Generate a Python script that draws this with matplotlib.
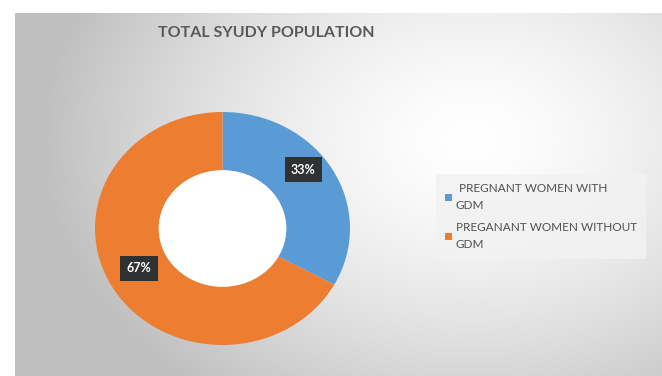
import numpy as np
import matplotlib.pyplot as plt
from matplotlib.patches import Patch, Ellipse

labels = [' PREGNANT WOMEN WITH\nGDM', 'PREGANANT WOMEN WITHOUT\nGDM']
values = [33, 67]
pct_labels = ['33%', '67%']
colors = ['#5B9BD5', '#ED7D31']
title = 'TOTAL SYUDY POPULATION'

plt.rcParams['font.family'] = ['Lato', 'DejaVu Sans']

W, H = 662, 376
fig = plt.figure(figsize=(W / 100, H / 100), dpi=100)
fig.patch.set_facecolor('white')

# background panel with a soft radial gradient, like the office chart area
bg = fig.add_axes([0, 0, 1, 1])
bg.set_xlim(0, W)
bg.set_ylim(H, 0)
bg.axis('off')
yy, xx = np.mgrid[0:H, 0:W]
d = np.sqrt(((xx - 470) / 430.0) ** 2 + ((yy - 140) / 320.0) ** 2)
shade = 1.0 - 0.25 * np.clip(d, 0, 1) ** 1.5
img = np.dstack([shade, shade, shade])
img[:13, :] = 1.0
img[:, :15] = 1.0
bg.imshow(img, extent=(0, W, H, 0), aspect='auto', zorder=0)

bg.text(266, 33, title, ha='center', va='center', fontsize=11.5,
        fontweight='bold', color='#595959')

# donut
ax = fig.add_axes([95 / W, 1 - 345 / H, 255 / W, 233 / H])
wedges, _ = ax.pie(values, colors=colors, startangle=90, counterclock=False,
                   radius=1.0, wedgeprops=dict(width=0.5, edgecolor='none'))
ax.add_patch(Ellipse((0, 0), 1.0, 1.0, fc='white', ec='none', zorder=5))
ax.set_aspect('auto')
ax.set_xlim(-1, 1)
ax.set_ylim(-1, 1)

# label placement tweaks (radius, angle shift in degrees)
label_r = [0.81, 0.74]
label_shift = [8, -3]
for w, txt, r, s in zip(wedges, pct_labels, label_r, label_shift):
    ang = np.deg2rad((w.theta1 + w.theta2) / 2 + s)
    ax.text(r * np.cos(ang), r * np.sin(ang), txt, ha='center', va='center',
            fontsize=9, fontweight='bold', color='white', zorder=6,
            bbox=dict(boxstyle='square,pad=0.5', fc='#2f3133', ec='none'))

handles = [Patch(facecolor=c, edgecolor='none') for c in colors]
leg = fig.legend(handles, labels, loc='upper left',
                 bbox_to_anchor=(434 / W, 1 - 172 / H), frameon=True,
                 fontsize=8.5, handlelength=0.6, handleheight=0.6,
                 handletextpad=0.3, labelspacing=0.95, borderpad=0.45,
                 labelcolor='#505050')
for t in leg.get_texts():
    t.set_linespacing(1.65)
leg.get_frame().set_facecolor('#f2f2f2')
leg.get_frame().set_edgecolor('none')
leg.get_frame().set_alpha(0.85)
leg.get_frame().set_boxstyle('square')

fig.savefig('out.png', dpi=100)
